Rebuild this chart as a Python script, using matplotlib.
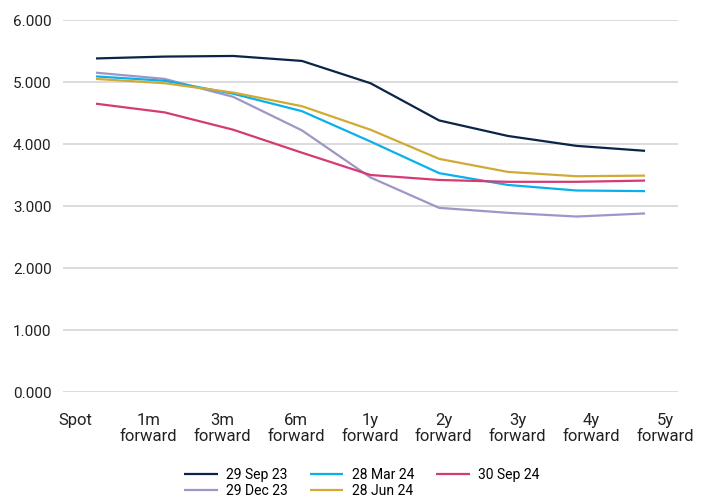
import matplotlib.pyplot as plt
import numpy as np

plt.rcParams['font.family'] = ['Roboto', 'DejaVu Sans']

tenors = ["Spot", "1m\nforward", "3m\nforward", "6m\nforward", "1y\nforward",
          "2y\nforward", "3y\nforward", "4y\nforward", "5y\nforward"]

sep23 = [5.38, 5.41, 5.42, 5.34, 4.98, 4.38, 4.13, 3.97, 3.89]
dec23 = [5.15, 5.05, 4.76, 4.22, 3.46, 2.97, 2.89, 2.83, 2.88]
mar24 = [5.09, 5.02, 4.81, 4.53, 4.04, 3.53, 3.34, 3.25, 3.24]
jun24 = [5.05, 4.98, 4.83, 4.61, 4.23, 3.76, 3.55, 3.48, 3.49]
sep24 = [4.65, 4.51, 4.23, 3.86, 3.50, 3.42, 3.39, 3.39, 3.41]

series = [
    ("29 Sep 23", sep23, "#0b2447"),
    ("29 Dec 23", dec23, "#9d96c6"),
    ("28 Mar 24", mar24, "#0ab0ec"),
    ("28 Jun 24", jun24, "#d1aa35"),
    ("30 Sep 24", sep24, "#d63a74"),
]

fig = plt.figure(figsize=(7.09, 4.97), dpi=100)
ax = fig.add_axes([62.7 / 709, 1 - 392 / 497, (678 - 62.7) / 709, (392 - 20) / 497])

x = np.arange(len(tenors))
for name, vals, col in series:
    ax.plot(x, vals, color=col, lw=1.6, label=name, solid_capstyle="butt")

ax.set_ylim(0, 6)
ax.set_xlim(-0.485, 8.48)
ax.set_yticks(np.arange(0, 7, 1))
ax.set_yticklabels([f"{v:.3f}" for v in range(7)], fontsize=11, color="#222222")

# category labels sit on a slightly wider spacing than the data points
ax.set_xticks(np.linspace(-0.306, 8.29, len(tenors)))
ax.set_xticklabels(tenors, fontsize=12, color="#222222", linespacing=1.12, va="top")

ax.tick_params(axis="both", length=0)
ax.tick_params(axis="y", pad=8)
ax.tick_params(axis="x", pad=15)
ax.grid(axis="y", color="#d9d9d9", lw=1.3)
ax.set_axisbelow(True)
for s in ax.spines.values():
    s.set_visible(False)

fig.legend(loc="center", bbox_to_anchor=(362 / 709, 1 - 483 / 497), ncol=3,
           frameon=False, fontsize=10, handlelength=2.4, columnspacing=1.6,
           labelspacing=0.1, handletextpad=0.6)

fig.savefig("out.png", dpi=100)
